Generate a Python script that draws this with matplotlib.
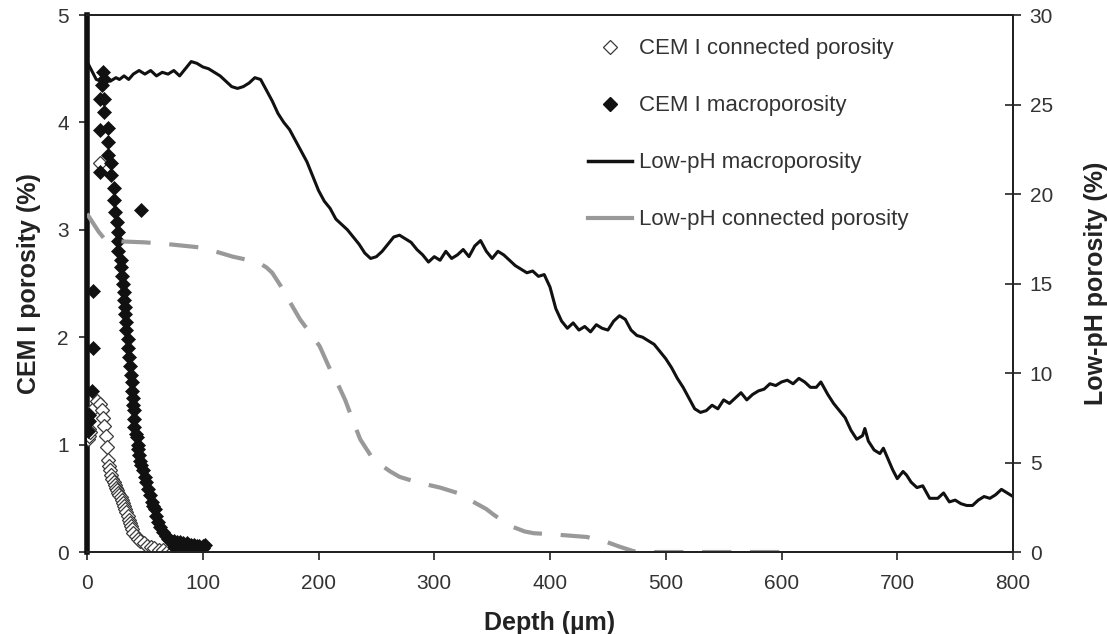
import matplotlib
matplotlib.use('Agg')
import matplotlib.pyplot as plt
from matplotlib.lines import Line2D

plt.rcParams['font.family'] = ['Liberation Sans', 'DejaVu Sans']
plt.rcParams['text.color'] = '#333333'
plt.rcParams['axes.labelcolor'] = '#222222'
plt.rcParams['xtick.color'] = '#222222'
plt.rcParams['ytick.color'] = '#222222'
plt.rcParams['xtick.labelcolor'] = '#333333'
plt.rcParams['ytick.labelcolor'] = '#333333'

# CEM I macroporosity (left axis), depth in um
cem_macro_depth = [1, 1.5, 2, 4, 5, 5, 11, 11, 11, 13, 14, 15, 15, 15, 18, 18, 18,
                   21, 21, 23, 23, 24, 47, 26, 27, 27, 27, 29, 29, 30, 31, 32, 32,
                   33, 33, 34, 34, 35, 35, 36, 37, 38, 39, 39, 40, 40, 41, 41, 41,
                   42, 43, 44, 44, 45, 46, 47, 48, 50, 51, 53, 54, 56, 57, 59, 60,
                   61, 63, 66, 68, 70, 72, 75, 78, 80, 83, 86, 88, 90, 92, 95, 97,
                   100, 75, 80, 85, 90, 95, 100, 102]
cem_macro = [1.13, 1.28, 1.22, 1.5, 1.9, 2.43, 3.54, 3.93, 4.22, 4.35, 4.47, 4.4, 4.22,
             4.1, 3.95, 3.82, 3.7, 3.62, 3.51, 3.39, 3.28, 3.17, 3.18, 3.07, 2.98, 2.9,
             2.8, 2.72, 2.65, 2.57, 2.5, 2.42, 2.35, 2.28, 2.22, 2.14, 2.07, 1.98, 1.9,
             1.82, 1.73, 1.65, 1.58, 1.5, 1.43, 1.37, 1.32, 1.24, 1.16, 1.1, 1.07, 1.0,
             0.96, 0.9, 0.85, 0.81, 0.76, 0.7, 0.65, 0.59, 0.53, 0.47, 0.43, 0.4, 0.34,
             0.28, 0.23, 0.19, 0.15, 0.12, 0.11, 0.1, 0.09, 0.09, 0.08, 0.08, 0.07, 0.07,
             0.07, 0.06, 0.06, 0.06, 0.05, 0.04, 0.04, 0.03, 0.03, 0.04, 0.07]

# CEM I connected porosity (left axis)
cem_conn_depth = [0.5, 1, 1.5, 2, 3, 11, 7, 9, 11, 13, 14, 15, 16, 17, 18, 19, 20,
                  21, 22, 23, 24, 25, 26, 27, 28, 29, 30, 31, 32, 33, 34, 35, 36, 37,
                  38, 39, 40, 42, 44, 46, 49, 52, 55, 58, 62, 66, 70, 74, 78, 82,
                  86, 90]
cem_conn = [1.05, 1.1, 1.15, 1.08, 1.12, 3.62, 1.35, 1.41, 1.38, 1.32, 1.25, 1.17, 1.08,
            0.98, 0.86, 0.8, 0.76, 0.72, 0.68, 0.65, 0.62, 0.6, 0.58, 0.55, 0.53, 0.51,
            0.48, 0.46, 0.43, 0.4, 0.37, 0.34, 0.3, 0.27, 0.24, 0.21, 0.18, 0.15, 0.12,
            0.1, 0.08, 0.06, 0.05, 0.04, 0.02, 0.02, 0.01, 0.01, 0.0, 0.0, 0.0, 0.0]

# Low-pH macroporosity (right axis)
lph_macro_depth = [0, 4, 8, 12, 16, 20, 25, 28, 32, 36, 40, 45, 50, 55, 60, 65, 70, 75,
                   80, 85, 90, 95, 100, 105, 110, 115, 120, 125, 130, 135, 140, 145, 150,
                   155, 160, 165, 170, 175, 180, 185, 190, 195, 200, 205, 210, 215, 220,
                   225, 230, 235, 240, 245, 250, 255, 260, 265, 270, 275, 280, 285, 290,
                   295, 300, 305, 310, 315, 320, 325, 330, 335, 340, 345, 350, 355, 360,
                   365, 370, 375, 380, 385, 390, 395, 400, 405, 410, 415, 420, 425, 430,
                   435, 440, 445, 450, 455, 460, 465, 470, 475, 480, 485, 490, 495, 500,
                   505, 510, 515, 520, 525, 530, 535, 540, 545, 550, 555, 560, 565, 570,
                   575, 580, 585, 590, 595, 600, 605, 610, 615, 620, 625, 630, 634, 640,
                   645, 650, 655, 660, 665, 670, 672, 675, 680, 685, 688, 692, 696, 700,
                   705, 708, 712, 717, 722, 728, 735, 740, 745, 750, 755, 760, 765, 770,
                   775, 780, 785, 790, 795, 800]
lph_macro = [27.4, 26.9, 26.4, 26.3, 26.4, 26.3, 26.5, 26.4, 26.6, 26.4, 26.7, 26.9, 26.7,
             26.9, 26.6, 26.8, 26.7, 26.9, 26.6, 27.0, 27.4, 27.3, 27.1, 27.0, 26.8, 26.6,
             26.3, 26.0, 25.9, 26.0, 26.2, 26.5, 26.4, 25.8, 25.2, 24.5, 24.0, 23.6, 23.0,
             22.4, 21.8, 21.0, 20.2, 19.6, 19.2, 18.6, 18.3, 18.0, 17.6, 17.2, 16.7, 16.4,
             16.5, 16.8, 17.2, 17.6, 17.7, 17.5, 17.3, 16.9, 16.6, 16.2, 16.5, 16.3, 16.8,
             16.4, 16.6, 16.9, 16.5, 17.1, 17.4, 16.8, 16.4, 16.8, 16.6, 16.3, 16.0, 15.8,
             15.6, 15.7, 15.4, 15.5, 14.8, 13.6, 12.9, 12.5, 12.8, 12.4, 12.6, 12.3, 12.7,
             12.5, 12.4, 12.9, 13.2, 13.0, 12.4, 12.1, 12.0, 11.8, 11.6, 11.2, 10.8, 10.3,
             9.7, 9.2, 8.6, 8.0, 7.8, 7.9, 8.2, 8.0, 8.5, 8.3, 8.6, 8.9, 8.5, 8.8, 9.0, 9.1,
             9.4, 9.3, 9.5, 9.6, 9.4, 9.7, 9.5, 9.2, 9.2, 9.5, 8.8, 8.3, 7.9, 7.5, 6.8, 6.3,
             6.5, 6.9, 6.2, 5.7, 5.5, 5.8, 5.2, 4.6, 4.1, 4.5, 4.3, 3.9, 3.6, 3.7, 3.0, 3.0,
             3.3, 2.8, 2.9, 2.7, 2.6, 2.6, 2.9, 3.1, 3.0, 3.2, 3.5, 3.3, 3.1]

# Low-pH connected porosity (right axis)
lph_conn_depth = [0, 5, 10, 15, 20, 30, 50, 70, 100, 126, 140, 150, 155, 160, 165, 170,
                  175, 184, 192, 201, 210, 218, 223, 230, 236, 245, 253, 262, 270, 285,
                  305, 320, 331, 345, 351, 360, 368, 378, 386, 400, 420, 432, 440, 449,
                  460, 472, 480, 600]
lph_conn = [18.9, 18.4, 17.9, 17.5, 17.4, 17.35, 17.3, 17.2, 17.0, 16.5, 16.3, 16.1, 15.9,
            15.6, 15.1, 14.6, 14.0, 13.0, 12.3, 11.5, 10.2, 9.2, 8.5, 7.3, 6.3, 5.4, 4.9,
            4.5, 4.2, 3.9, 3.6, 3.3, 2.9, 2.4, 2.1, 1.7, 1.4, 1.15, 1.05, 1.0, 0.9, 0.84,
            0.7, 0.56, 0.3, 0.05, 0.0, 0.0]

fig = plt.figure(figsize=(11.07, 6.34), dpi=100)
ax = fig.add_axes([0.0786, 0.1293, 0.8365, 0.847])
ax2 = ax.twinx()

ms = 7.3
ax.plot(cem_conn_depth, cem_conn, linestyle='none', marker='D', ms=ms,
        mfc='white', mec='#3a3a3a', mew=0.9, zorder=3)
ax.plot(cem_macro_depth, cem_macro, linestyle='none', marker='D', ms=ms,
        mfc='#111111', mec='#111111', mew=0.5, zorder=4)

ax2.plot(lph_macro_depth, lph_macro, color='#111111', lw=2.2)
ax2.plot(lph_conn_depth, lph_conn, color='#999999', lw=3.0, dashes=(7, 4.5))

ax.set_xlim(0, 800)
ax.set_ylim(0, 5)
ax2.set_ylim(0, 30)
ax.set_xticks(range(0, 801, 100))
ax.set_yticks(range(0, 6))
ax2.set_yticks(range(0, 31, 5))

for a in (ax, ax2):
    for s in a.spines.values():
        s.set_linewidth(1.4)
        s.set_color('#222222')
ax.spines['left'].set_linewidth(4.0)
ax.spines['left'].set_color('#111111')
ax2.spines['left'].set_visible(False)

ax.tick_params(axis='x', labelsize=15, length=6, width=1.2, direction='out', pad=10)
ax.tick_params(axis='y', labelsize=15, length=6, width=1.2, direction='out', pad=7)
ax2.tick_params(axis='y', labelsize=15, length=12, width=1.2, direction='inout', pad=6)

ax.set_xlabel('Depth (\u00b5m)', fontsize=18, fontweight='bold', labelpad=13)
ax.set_ylabel('CEM I porosity (%)', fontsize=18, fontweight='bold', labelpad=12)
ax2.set_ylabel('Low-pH porosity (%)', fontsize=18, fontweight='bold', labelpad=22)

handles = [
    Line2D([], [], linestyle='none', marker='D', ms=ms, mfc='white', mec='#3a3a3a', mew=0.9),
    Line2D([], [], linestyle='none', marker='D', ms=ms, mfc='#111111', mec='#111111'),
    Line2D([], [], color='#111111', lw=2.5),
    Line2D([], [], color='#999999', lw=3.0),
]
labels = ['CEM I connected porosity', 'CEM I macroporosity',
          'Low-pH macroporosity', 'Low-pH connected porosity']
ax2.legend(handles, labels, loc='upper left', bbox_to_anchor=(0.521, 0.957),
           bbox_transform=fig.transFigure, frameon=False, fontsize=16,
           handlelength=2.0, handletextpad=0.3, labelspacing=1.62, borderpad=0)

fig.savefig('out.png', dpi=100)
